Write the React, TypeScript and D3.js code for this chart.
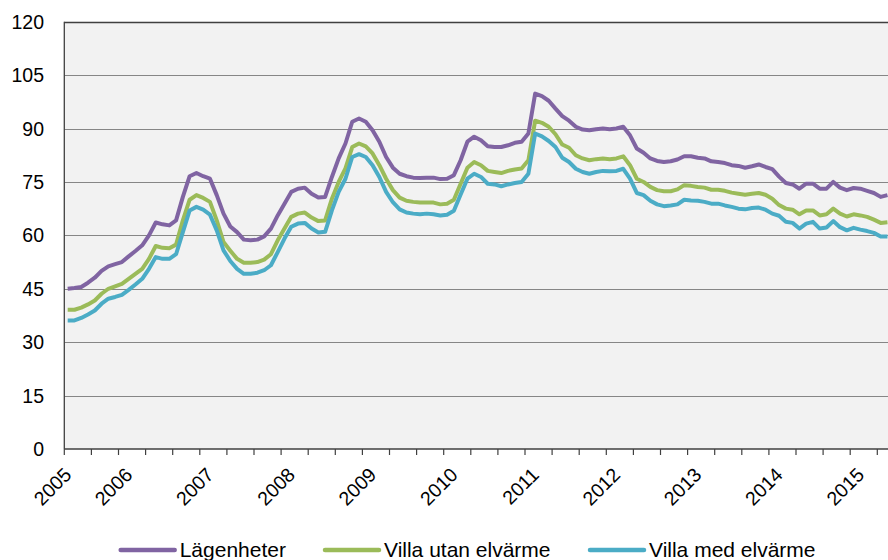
import React, { useEffect, useRef } from "react";
import * as d3 from "d3";

// monthly index values, april 2005 -> may 2015
const lagenheter = [
  45.0, 45.2, 45.5, 46.7, 48.1, 50.0, 51.3, 51.9, 52.5, 54.1, 55.6, 57.2,
  60.0, 63.6, 63.1, 62.8, 64.2, 70.8, 76.6, 77.5, 76.6, 75.9, 71.3, 66.1,
  62.5, 60.9, 58.8, 58.6, 58.8, 59.7, 61.9, 65.6, 68.9, 72.2, 73.1, 73.4,
  71.7, 70.6, 70.8, 76.4, 81.6, 85.8, 91.9, 92.8, 91.9, 89.5, 86.3, 82.0,
  79.0, 77.3, 76.6, 76.2, 76.1, 76.2, 76.2, 75.8, 75.9, 76.9, 81.1, 86.3,
  87.7, 86.7, 85.0, 84.8, 84.8, 85.3, 86.0, 86.3, 88.6, 99.8, 99.1, 97.8,
  95.6, 93.5, 92.2, 90.5, 89.7, 89.5, 89.8, 90.0, 89.8, 90.0, 90.5, 88.1,
  84.4, 83.2, 81.6, 80.9, 80.6, 80.8, 81.3, 82.2, 82.2, 81.8, 81.6, 80.8,
  80.6, 80.3, 79.7, 79.5, 79.0, 79.4, 79.9, 79.2, 78.6, 76.5, 74.7, 74.3,
  73.1, 74.5, 74.5, 73.1, 73.1, 75.0, 73.4, 72.7, 73.3, 73.1, 72.5, 71.9,
  70.8, 71.3
];
const villaUtan = [
  39.1, 39.1, 39.7, 40.6, 41.7, 43.6, 45.0, 45.7, 46.4, 47.8, 49.2, 50.6,
  53.4, 57.0, 56.5, 56.4, 57.4, 64.2, 70.0, 71.3, 70.5, 69.4, 64.2, 58.1,
  55.7, 53.4, 52.3, 52.3, 52.5, 53.2, 54.7, 58.6, 61.9, 65.2, 66.1, 66.4,
  65.0, 64.0, 64.2, 70.3, 75.0, 78.8, 84.8, 85.8, 85.0, 83.0, 79.7, 75.9,
  72.7, 70.6, 69.7, 69.4, 69.2, 69.2, 69.2, 68.7, 68.9, 70.0, 74.5, 79.0,
  80.6, 79.7, 78.1, 77.8, 77.5, 78.1, 78.5, 78.8, 81.1, 92.2, 91.6, 90.5,
  88.4, 85.5, 84.6, 82.5, 81.6, 81.1, 81.4, 81.6, 81.4, 81.6, 82.2, 79.7,
  75.9, 75.0, 73.6, 72.7, 72.4, 72.4, 72.9, 74.1, 73.9, 73.6, 73.4, 72.8,
  72.8, 72.5, 72.0, 71.7, 71.4, 71.7, 71.9, 71.4, 70.3, 68.5, 67.5, 67.2,
  65.9, 67.0, 67.0, 65.6, 65.9, 67.5, 66.1, 65.3, 65.9, 65.6, 65.2, 64.4,
  63.5, 63.7
];
const villaMed = [
  36.1, 36.1, 36.8, 37.8, 38.9, 40.8, 42.2, 42.7, 43.3, 44.7, 46.2, 47.8,
  50.6, 53.9, 53.4, 53.4, 54.7, 60.9, 67.0, 68.0, 67.2, 65.8, 61.4, 55.8,
  52.8, 50.6, 49.2, 49.2, 49.5, 50.2, 51.6, 55.3, 59.1, 62.4, 63.3, 63.5,
  61.9, 60.8, 61.0, 67.0, 72.2, 75.9, 82.0, 82.8, 82.0, 79.7, 76.4, 72.2,
  69.3, 67.3, 66.4, 66.1, 65.9, 66.1, 65.9, 65.6, 65.8, 66.9, 71.5, 75.9,
  77.3, 76.4, 74.5, 74.3, 73.8, 74.3, 74.7, 75.0, 77.3, 88.6, 87.8, 86.5,
  84.8, 81.8, 80.6, 78.7, 77.8, 77.3, 77.8, 78.1, 78.0, 78.1, 78.7, 75.9,
  71.9, 71.3, 69.7, 68.7, 68.2, 68.4, 68.7, 70.0, 69.8, 69.7, 69.4, 68.9,
  68.9, 68.4, 68.0, 67.5, 67.3, 67.7, 67.8, 67.2, 66.1, 65.5, 63.8, 63.5,
  61.9, 63.3, 63.8, 61.9, 62.2, 64.0, 62.3, 61.4, 62.1, 61.6, 61.2, 60.7,
  59.7, 59.7
];

const yearLabels = ["2005", "2006", "2007", "2008", "2009", "2010", "2011", "2012", "2013", "2014", "2015"];
const yearIndex = [0, 9, 21, 33, 45, 57, 69, 81, 93, 105, 117];
const yTicks = [0, 15, 30, 45, 60, 75, 90, 105, 120];

const seriesNames = ["Lägenheter", "Villa utan elvärme", "Villa med elvärme"];
const seriesColors = ["#8064a2", "#9bbb59", "#4bacc6"];

const App = () => {
  const svgRef = useRef<SVGSVGElement>(null);

  useEffect(() => {
    const svg = d3.select(svgRef.current);
    svg.selectAll("*").remove();

    const width = 888;
    const left = 64.3;
    const top = 21.7;
    const bottom = 449;
    const step = 6.775;
    const n = lagenheter.length;
    const font = "'Liberation Sans', Arial, sans-serif";

    const x = d3.scaleLinear().domain([0, n]).range([left, left + n * step]);
    const y = d3.scaleLinear().domain([0, 120]).range([bottom, top]);

    svg.append("rect")
      .attr("x", left).attr("y", top)
      .attr("width", width - left).attr("height", bottom - top)
      .attr("fill", "#f2f2f2");

    // gridlines
    svg.append("g").selectAll("line")
      .data(yTicks.filter(d => d > 0))
      .join("line")
      .attr("x1", left).attr("x2", width)
      .attr("y1", d => Math.round(y(d)) + 0.5).attr("y2", d => Math.round(y(d)) + 0.5)
      .attr("stroke", d => d === 120 ? "#404040" : "#868686")
      .attr("stroke-width", d => d === 120 ? 1.5 : 1);

    // y labels
    svg.append("g").selectAll("text")
      .data(yTicks)
      .join("text")
      .attr("x", 44)
      .attr("y", d => y(d))
      .attr("dy", "0.36em")
      .attr("text-anchor", "end")
      .style("font-family", font)
      .style("font-size", "19.5px")
      .attr("fill", "#000")
      .text(d => d);

    // axes lines
    svg.append("line")
      .attr("x1", left).attr("x2", left).attr("y1", top).attr("y2", bottom)
      .attr("stroke", "#404040").attr("stroke-width", 1.3);
    svg.append("line")
      .attr("x1", left).attr("x2", width).attr("y1", bottom).attr("y2", bottom)
      .attr("stroke", "#404040").attr("stroke-width", 1.3);

    // x tick marks every 4 months
    svg.append("g").selectAll("line")
      .data(d3.range(0, n + 1, 4))
      .join("line")
      .attr("x1", d => x(d)).attr("x2", d => x(d))
      .attr("y1", bottom).attr("y2", bottom + 6)
      .attr("stroke", "#404040").attr("stroke-width", 1.2);

    // year labels
    svg.append("g").selectAll("text")
      .data(yearLabels)
      .join("text")
      .attr("transform", (d, i) => `translate(${x(yearIndex[i] + 0.5)},${471}) rotate(-45)`)
      .attr("dy", "0.36em")
      .attr("text-anchor", "end")
      .style("font-family", font)
      .style("font-size", "19.5px")
      .attr("fill", "#000")
      .text(d => d);

    const line = d3.line<number>()
      .x((d, i) => x(i + 0.5))
      .y(d => y(d));

    [lagenheter, villaUtan, villaMed].forEach((data, k) => {
      svg.append("path")
        .datum(data)
        .attr("fill", "none")
        .attr("stroke", seriesColors[k])
        .attr("stroke-width", 4)
        .attr("stroke-linejoin", "round")
        .attr("d", line);
    });

    // legend
    const legendX = [120.7, 325, 590];
    seriesNames.forEach((name, k) => {
      svg.append("line")
        .attr("x1", legendX[k]).attr("x2", legendX[k] + 54)
        .attr("y1", 550).attr("y2", 550)
        .attr("stroke", seriesColors[k])
        .attr("stroke-width", 4.5)
        .attr("stroke-linecap", "round");
      svg.append("text")
        .attr("x", legendX[k] + 59)
        .attr("y", 556.5)
        .style("font-family", font)
        .style("font-size", "21px")
        .attr("fill", "#000")
        .text(name);
    });
  }, []);

  return (
    <svg ref={svgRef} width={888} height={560}
      style={{ position: "absolute", left: 0, top: 0, background: "#fff" }}></svg>
  );
};

export default App;
